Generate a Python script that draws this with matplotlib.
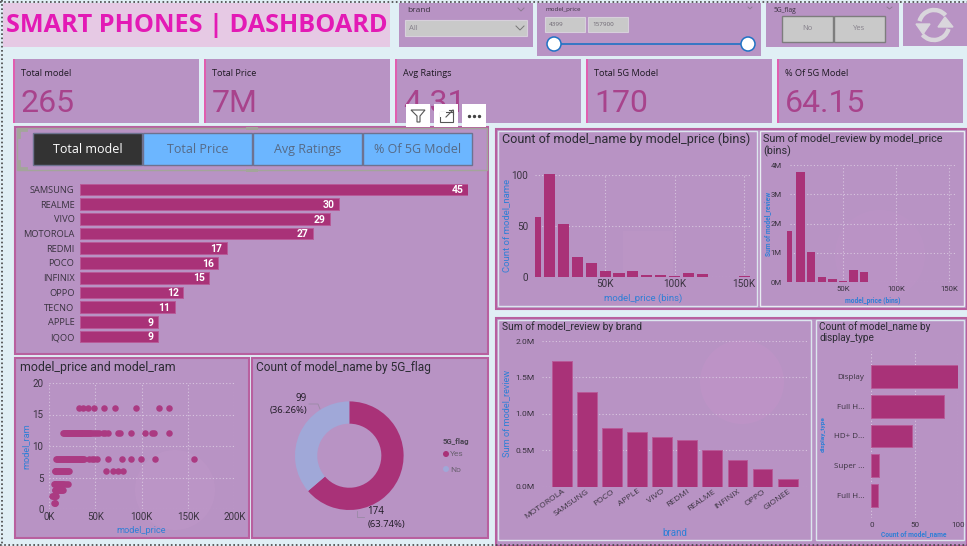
import matplotlib
matplotlib.use("Agg")
import matplotlib.pyplot as plt
from matplotlib.patches import Rectangle, Circle, Arc, Polygon

# data
brands = ["SAMSUNG", "REALME", "VIVO", "MOTOROLA", "REDMI", "POCO", "INFINIX", "OPPO", "TECNO", "APPLE", "IQOO"]
brand_counts = [45, 30, 29, 27, 17, 16, 15, 12, 11, 9, 9]

price_bins = [0, 10, 20, 30, 40, 50, 60, 70, 80, 90, 100, 110, 120, 130, 140, 150]
bin_counts = [59, 101, 52, 19, 13, 6, 4, 6, 2, 2, 1, 4, 3, 0, 0, 1]
bin_reviews = [1.75, 3.75, 1.02, 0.18, 0.12, 0.03, 0.42, 0.35, 0.02, 0.02, 0.02, 0.02, 0.02, 0, 0, 0.02]

review_brands = ["MOTOROLA", "SAMSUNG", "POCO", "APPLE", "VIVO", "REDMI", "REALME", "INFINIX", "OPPO", "GIONEE"]
brand_reviews = [1.72, 1.30, 0.80, 0.75, 0.68, 0.64, 0.50, 0.36, 0.24, 0.11]

display_types = ["Display", "Full H...", "HD+ D...", "Super ...", "Full H..."]
display_counts = [100, 84, 47, 9, 8]

flag_names = ["Yes", "No"]
flag_counts = [174, 99]

ram_16 = [32, 37, 42, 49, 59, 71, 94, 119, 129]
ram_12 = [15, 16, 17, 18, 19, 20, 21, 22, 23, 24, 25, 26, 27, 28, 29, 30, 31, 32, 33, 34, 35, 36, 37, 38, 39, 40, 41,
          42, 43, 44, 45, 47, 50, 52, 54, 58, 60, 64, 74, 77, 89, 104, 111, 113, 129]
ram_8 = [8, 9, 10, 11, 12, 13, 14, 15, 16, 17, 18, 19, 20, 21, 22, 23, 24, 25, 26, 27, 28, 29, 30, 31, 32, 33, 34, 35,
         36, 37, 38, 43, 46, 49, 52, 64, 79, 89, 99, 114, 157]
ram_6 = [6, 7, 8, 9, 10, 11, 12, 13, 14, 15, 16, 17, 18, 19, 20, 22, 62, 69, 74, 80]
ram_4 = [5, 6, 7, 8, 9, 10, 11, 12, 13, 14, 15, 16, 18, 20]
ram_3 = [6, 7, 8, 9, 10, 11, 12, 13, 14, 15]
ram_2 = [3, 4, 5, 6, 7, 8]
ram_1 = [5, 6, 7]

cards = ["Total model", "Total Price", "Avg Ratings", "Total 5G Model", "% Of 5G Model"]
card_values = ["265", "7M", "4.31", "170", "64.15"]
buttons = ["Total model", "Total Price", "Avg Ratings", "% Of 5G Model"]

W, H = 967, 546
PANEL = "#b893c4"
EDGE = "#b8609f"
BAR = "#a93278"
BLUE = "#2f7fd6"
DARK = "#2b2b33"
TICK = "#3a3340"
GRID = "#d8c6df"

plt.rcParams["font.family"] = ["Roboto", "DejaVu Sans"]

fig = plt.figure(figsize=(W / 100, H / 100), dpi=100, facecolor="#e0eff5")
bg = fig.add_axes([0, 0, 1, 1], zorder=0)
bg.set_xlim(0, W)
bg.set_ylim(H, 0)
bg.axis("off")
top = fig.add_axes([0, 0, 1, 1], zorder=10)
top.set_xlim(0, W)
top.set_ylim(H, 0)
top.axis("off")
top.patch.set_alpha(0)


def box(ax, x0, y0, x1, y1, color, **kw):
    ax.add_patch(Rectangle((x0, y0), x1 - x0, y1 - y0, facecolor=color, edgecolor=kw.pop("ec", "none"), **kw))


def px_axes(x0, y0, x1, y1):
    ax = fig.add_axes([x0 / W, 1 - y1 / H, (x1 - x0) / W, (y1 - y0) / H], zorder=5)
    ax.patch.set_alpha(0)
    for s in ax.spines.values():
        s.set_visible(False)
    ax.tick_params(length=0, colors=TICK, labelsize=7.5, pad=3)
    ax.set_axisbelow(True)
    return ax


def grid(ax, which="both"):
    ax.grid(True, axis=which, color=GRID, linestyle=(0, (1, 2)), linewidth=0.8)


# page furniture
bg.plot([0, W], [2, 2], color="#444444", lw=1.2, ls=(0, (1, 1.5)))
bg.plot([1.5, 1.5], [0, H], color="#444444", lw=1.2, ls=(0, (1, 1.5)))
bg.plot([0, W], [545, 545], color="#444444", lw=1.2, ls=(0, (1, 1.5)))

box(bg, 3, 3, 390, 47, "#e6c9e4")
bg.text(6, 25.5, "SMART PHONES | DASHBOARD", color="#e31ab5", fontsize=18.15, fontweight="bold",
        family="Open Sans", va="center", ha="left")

# slicers
box(bg, 399, 3, 533, 47, PANEL)
bg.text(407, 11, "brand", fontsize=6, color=TICK, va="center", family="Open Sans")
box(bg, 405, 20, 527, 36, "#c9c9c9", ec="#d8d0dc", lw=0.8)
bg.text(409, 29, "All", fontsize=5.5, color="#85808a", va="center", family="Open Sans")
bg.plot([516, 520, 524], [26, 30, 26], color="#777777", lw=0.7)
bg.plot([518, 521, 524], [8, 11, 8], color="#8a7a90", lw=0.7)

box(bg, 537, 3, 761, 56, PANEL)
bg.text(545, 10, "model_price", fontsize=4.5, color=TICK, va="center", family="Open Sans")
box(bg, 545, 17, 585, 32, "#c9c9c9", ec="#d8d0dc", lw=0.8)
box(bg, 588, 17, 628, 32, "#c9c9c9", ec="#d8d0dc", lw=0.8)
bg.text(549, 24.5, "4399", fontsize=4.5, color="#6b6570", va="center", family="Open Sans")
bg.text(592, 24.5, "157900", fontsize=4.5, color="#6b6570", va="center", family="Open Sans")
bg.plot([554, 748], [44, 44], color="#1f72c4", lw=1.2)
for cx in (554, 748):
    bg.add_patch(Circle((cx, 44), 7, facecolor="white", edgecolor="#1f72c4", lw=1.1, zorder=3))
bg.plot([748, 750, 752], [7, 9, 7], color="#8a7a90", lw=0.6)

box(bg, 766, 3, 899, 47, PANEL)
bg.text(774, 10, "5G_flag", fontsize=4.8, color=TICK, va="center", family="Open Sans")
bg.plot([887, 889.5, 892], [7, 9, 7], color="#8a7a90", lw=0.6)
for x0, x1, name in [(782, 833, "No"), (834, 885, "Yes")]:
    box(bg, x0, 16, x1, 42, "#c9c9c9", ec="#7d7d7d", lw=1)
    bg.text((x0 + x1) / 2, 29, name, fontsize=5.5, color="#85808a", ha="center", va="center", family="Open Sans")

# refresh button
box(bg, 903, 3, 967, 46, PANEL)
bg.add_patch(Arc((934, 25), 30, 30, theta1=195, theta2=320, color="#d9d6dc", lw=3.2))
bg.add_patch(Arc((934, 25), 30, 30, theta1=15, theta2=140, color="#d9d6dc", lw=3.2))
bg.add_patch(Polygon([[916, 24], [930, 24], [923, 34]], closed=True, color="#d9d6dc"))
bg.add_patch(Polygon([[938, 27], [953, 27], [945, 17]], closed=True, color="#d9d6dc"))

# cards
card_lefts = [13, 204, 395, 586, 777]
for left, name, value in zip(card_lefts, cards, card_values):
    box(bg, left, 59, left + 186, 123, PANEL)
    box(bg, left, 59, left + 2, 123, "#e05fb0")
    bg.text(left + 8, 74, name, fontsize=6.6, color="#1f1a24", va="center", family="Open Sans")
    bg.text(left + 8, 103, value, fontsize=23, color="#a8438c", va="center")

# panels
for x0, y0, x1, y1 in [(15, 127, 488, 354), (15, 358, 249, 538), (252, 358, 488, 538),
                       (496, 129, 967, 309), (496, 318, 967, 546)]:
    box(bg, x0, y0, x1, y1, PANEL, ec=EDGE, lw=1.5)
box(bg, 497.5, 131, 757, 306, PANEL, ec="#dce6ee", lw=1)
box(bg, 760, 131, 964, 306, PANEL, ec="#e8eef2", lw=1)
box(bg, 498, 320, 811, 540, PANEL, ec="#dce6ee", lw=1)
box(bg, 816, 320, 964, 540, PANEL, ec="#dce6ee", lw=1)

# faint wallpaper showing through the panels
bg.add_patch(Circle((742, 382), 42, facecolor="#c795cb", alpha=0.35, zorder=2))
bg.add_patch(Circle((880, 255), 45, facecolor="#c195ca", alpha=0.3, zorder=2))
bg.add_patch(Rectangle((623, 231), 50, 45, facecolor="#c29cca", alpha=0.3, zorder=2))
bg.add_patch(Circle((175, 490), 40, facecolor="#c49acb", alpha=0.3, zorder=2))

# tab buttons and the selection frame
tab_lefts = [33, 143, 253, 363]
for left, name in zip(tab_lefts, buttons):
    active = name == "Total model"
    box(bg, left, 133, left + 109, 165, "#333333" if active else "#6cb6ff", ec="#6e7290", lw=1, zorder=3)
    bg.text(left + 54.5, 149.5, name, fontsize=9, color="white" if active else "#566a86", ha="center", va="center",
            family="Open Sans", zorder=4)
box(bg, 17, 128, 487, 170, "none", ec="#a3a59a", lw=1, zorder=4)
for x, y in [(252, 128), (252, 170)]:
    box(bg, x - 6, y - 1.5, x + 6, y + 1.5, "#a3a59a", zorder=4)
for x0, x1, y in [(19, 26, 130), (19, 26, 168)]:
    bg.plot([x0, x1], [y, y], color="#a3a59a", lw=2, zorder=4)
bg.plot([19, 19], [130, 137], color="#a3a59a", lw=2, zorder=4)
bg.plot([19, 19], [161, 168], color="#a3a59a", lw=2, zorder=4)

# visual header icons, over the avg ratings card
for x0 in (406, 434, 462):
    box(top, x0, 104, x0 + 24, 127, "white")
top.add_patch(Polygon([[411, 110], [425, 110], [420, 116], [420, 122], [417, 122], [417, 116]], closed=True,
                      facecolor="none", edgecolor="#555555", lw=0.8))
box(top, 440, 112, 453, 122, "none", ec="#555555", lw=0.8)
box(top, 440, 112, 446, 117, "white")
top.plot([446, 453], [117, 110], color="#555555", lw=0.8)
top.plot([449, 453, 453], [110, 110, 114], color="#555555", lw=0.8)
top.scatter([469, 474, 479], [116, 116, 116], s=2, color="#444444")

# brand count bars
ax = px_axes(80, 182, 468, 344)
ax.barh(range(len(brands)), brand_counts, height=0.79, color=BAR, edgecolor="#b85a98", linewidth=0.7)
ax.set_xlim(0, 45)
ax.set_ylim(len(brands) - 0.5, -0.5)
ax.set_yticks(range(len(brands)), brands)
ax.set_xticks([])
ax.tick_params(axis="y", labelsize=6.7, pad=4)
for lab in ax.get_yticklabels():
    lab.set_family("Open Sans")
for i, v in enumerate(brand_counts):
    ax.text(v - 0.5, i + 0.05, str(v), color="white", fontsize=7.5, fontweight="bold", ha="right", va="center")

# price bins, count
bg.text(502, 139.5, "Count of model_name by model_price (bins)", fontsize=9.05, color=DARK, va="center", zorder=4)
ax = px_axes(535, 174.7, 752, 276.7)
ax.bar(price_bins, bin_counts, width=8, color=BAR)
ax.set_xlim(-0.4, 155.6)
ax.set_ylim(0, 100)
ax.set_xticks([50, 100, 150], ["50K", "100K", "150K"])
ax.set_yticks([0, 50, 100])
grid(ax)
ax.tick_params(axis="x", labelsize=7.2, pad=2)
ax.tick_params(axis="y", labelsize=7.2, pad=5)
ax.set_xlabel("model_price (bins)", color=BLUE, fontsize=6.8, labelpad=3)
ax.set_ylabel("Count of model_name", color=BLUE, fontsize=6.8, labelpad=0)
ax.patches[1].set_clip_on(False)

# price bins, reviews
bg.text(763, 138.5, "Sum of model_review by model_price", fontsize=7.85, color=DARK, va="center", zorder=4)
bg.text(763, 151.5, "(bins)", fontsize=7.85, color=DARK, va="center", zorder=4)
ax = px_axes(790, 165, 955, 282.3)
ax.bar(price_bins, bin_reviews, width=8, color=BAR)
ax.set_xlim(0, 155.7)
ax.set_ylim(0, 4)
ax.patches[0].set_clip_on(False)
ax.patches[0].set_x(-3)
ax.patches[0].set_width(5)
ax.set_xticks([50, 100, 150], ["50K", "100K", "150K"])
ax.set_yticks([0, 1, 2, 3, 4], ["0M", "1M", "2M", "3M", "4M"])
grid(ax)
ax.tick_params(labelsize=5.6)
ax.tick_params(axis="y", pad=6)
ax.set_xlabel("model_price (bins)", color=BLUE, fontsize=4.8, labelpad=3, fontweight="bold")
ax.set_ylabel("Sum of model_review", color=BLUE, fontsize=4.8, labelpad=-1, fontweight="bold")

# reviews by brand
bg.text(502, 326.5, "Sum of model_review by brand", fontsize=7.4, color=DARK, va="center", zorder=4)
ax = px_axes(541.7, 341, 808, 486.7)
ax.bar(range(len(review_brands)), brand_reviews, width=0.79, color=BAR, edgecolor="#b85a98", linewidth=0.7)
ax.set_xlim(-0.8, 9.81)
ax.set_ylim(0, 2)
ax.set_xticks(range(len(review_brands)), review_brands, rotation=35, ha="right", rotation_mode="anchor")
ax.set_yticks([0, 0.5, 1, 1.5, 2], ["0.0M", "0.5M", "1.0M", "1.5M", "2.0M"])
grid(ax, "y")
ax.tick_params(labelsize=6.1)
ax.tick_params(axis="x", pad=1)
ax.tick_params(axis="y", pad=5)
for lab in ax.get_xticklabels():
    lab.set_family("Open Sans")
bg.text(675, 533, "brand", color=BLUE, fontsize=7, ha="center", va="center", zorder=4)
bg.text(507, 413, "Sum of model_review", color=BLUE, fontsize=6.6, rotation=90, ha="center", va="center", zorder=4)

# display type
bg.text(819, 326.5, "Count of model_name by", fontsize=7.2, color=DARK, va="center", zorder=4)
bg.text(819, 338, "display_type", fontsize=7.2, color=DARK, va="center", zorder=4)
ax = px_axes(871.3, 351, 957.7, 518)
ax.barh(range(len(display_types)), display_counts, height=0.77, color=BAR, edgecolor="#b85a98", linewidth=0.7)
ax.set_xlim(0, 100)
ax.set_ylim(4.75, -0.85)
ax.set_yticks(range(len(display_types)), display_types)
ax.set_xticks([0, 50, 100])
grid(ax, "x")
ax.tick_params(labelsize=5.8)
ax.tick_params(axis="y", pad=5)
for lab in ax.get_yticklabels():
    lab.set_family("Open Sans")
bg.text(914, 534, "Count of model_name", color=BLUE, fontsize=4.8, ha="center", va="center", fontweight="bold", zorder=4)
ax.set_ylabel("display_type", color=BLUE, fontsize=4.6, labelpad=6, fontweight="bold")

# price against ram
bg.text(20, 367, "model_price and model_ram", fontsize=8.9, color=DARK, va="center", zorder=4)
ax = px_axes(49, 383, 234.3, 509)
for ram, prices in [(16, ram_16), (12, ram_12), (8, ram_8), (6, ram_6), (4, ram_4), (3, ram_3), (2, ram_2), (1, ram_1)]:
    ax.scatter(prices, [ram] * len(prices), s=22, color="#ab3a82", linewidths=0, zorder=3, clip_on=False)
ax.set_xlim(0, 200)
ax.set_ylim(0, 20)
ax.set_xticks([0, 50, 100, 150, 200], ["0K", "50K", "100K", "150K", "200K"])
ax.set_yticks([0, 5, 10, 15, 20])
grid(ax)
ax.tick_params(labelsize=7)
ax.tick_params(axis="x", pad=2.5)
ax.tick_params(axis="y", pad=4)
bg.text(141, 530.5, "model_price", color=BLUE, fontsize=6.6, ha="center", va="center", zorder=4)
bg.text(25.5, 446, "model_ram", color=BLUE, fontsize=6.6, rotation=90, ha="center", va="center", zorder=4)

# 5G donut
bg.text(256, 367, "Count of model_name by 5G_flag", fontsize=8.6, color=DARK, va="center", zorder=4)
ax = px_axes(295, 401.4, 403.6, 510)
ax.pie(flag_counts, colors=[BAR, "#a0a8d8"], startangle=90, counterclock=False, radius=1,
       wedgeprops={"width": 0.41})
ax.set_xlim(-1, 1)
ax.set_ylim(-1, 1)
bg.plot([309, 318, 320], [404, 404, 409], color="#9a8aa5", lw=0.6, zorder=4)
bg.plot([357, 357, 364], [511, 517, 517], color="#9a8aa5", lw=0.6, zorder=4)
bg.text(301.5, 398.5, f"{flag_counts[1]}", fontsize=7, color="#1f1a24", ha="center", va="center", zorder=4, family="Open Sans")
bg.text(288, 411, "(36.26%)", fontsize=6.8, color="#1f1a24", ha="center", va="center", zorder=4, family="Open Sans")
bg.text(375.5, 511, f"{flag_counts[0]}", fontsize=7, color="#1f1a24", ha="center", va="center", zorder=4, family="Open Sans")
bg.text(386, 524, "(63.74%)", fontsize=6.8, color="#1f1a24", ha="center", va="center", zorder=4, family="Open Sans")
bg.text(443, 441.5, "5G_flag", fontsize=5.6, color="#4a4452", fontweight="bold", va="center", zorder=4)
for name, y, c in zip(flag_names, [454, 469], [BAR, "#a0a8d8"]):
    bg.add_patch(Circle((446, y), 3, facecolor=c, zorder=4))
    bg.text(450, y + 0.5, name, fontsize=6, color="#6a6070", va="center", zorder=4)

fig.savefig("out.png", dpi=100, facecolor=fig.get_facecolor())
